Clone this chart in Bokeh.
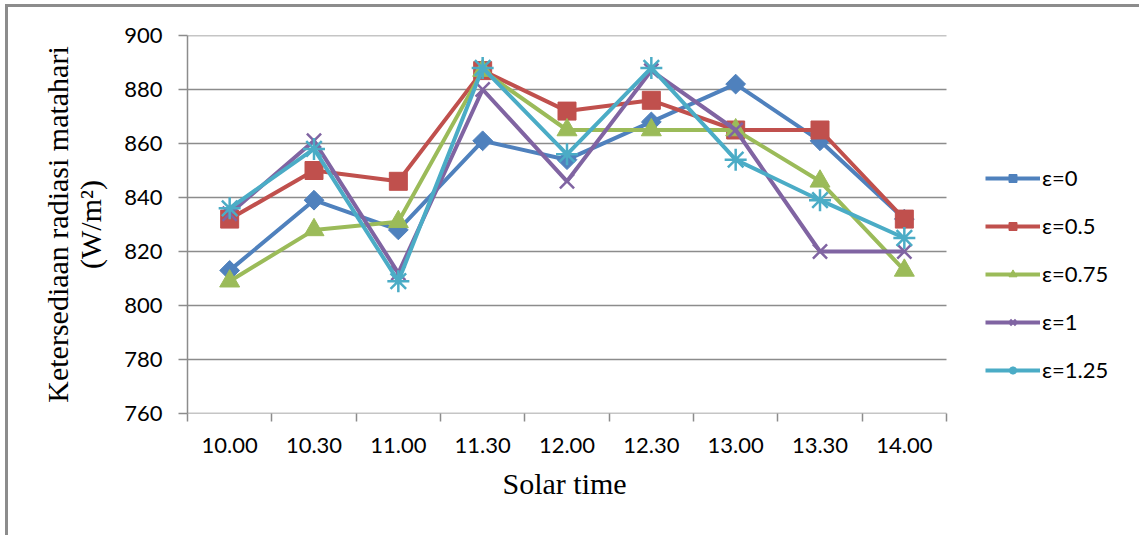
import math
from bokeh.plotting import figure
from bokeh.models import FixedTicker, Legend
from bokeh.embed import file_html
from bokeh.resources import INLINE

# ---- data ----
times = ["10.00", "10.30", "11.00", "11.30", "12.00", "12.30", "13.00", "13.30", "14.00"]
eps0 = [813, 839, 828, 861, 854, 868, 882, 861, 832]
eps05 = [832, 850, 846, 887, 872, 876, 865, 865, 832]
eps075 = [809, 828, 831, 887, 865, 865, 865, 846, 813]
eps1 = [834, 861, 812, 880, 846, 887, 865, 820, 820]
eps125 = [836, 858, 809, 888, 856, 888, 854, 839, 825]
series_labels = ["ε=0", "ε=0.5", "ε=0.75", "ε=1", "ε=1.25"]
y_ticks = [760, 780, 800, 820, 840, 860, 880, 900]
x_title = "Solar time"
y_title = "Ketersediaan radiasi matahari\n(W/m²)"

colors = ["#4F81BD", "#C0504D", "#9BBB59", "#8064A2", "#4BACC6"]

n = len(times)
xs = [i + 0.5 for i in range(n)]

W, H = 1139, 535
left, top, bottom = 187, 35, 122
plot_w = 759                      # width of the category area in pixels
frame_w = W - left                # frame reaches the right edge so the legend can sit there
x_end = n * frame_w / plot_w

p = figure(width=W, height=H, output_backend="svg", toolbar_location=None,
           x_range=(0, x_end), y_range=(760, 900), title_location="below",
           min_border_left=left, min_border_right=0, min_border_top=top, min_border_bottom=bottom)
p.outline_line_color = None
p.background_fill_color = None
p.border_fill_color = None
p.styles = {
    "background": "linear-gradient(#8c8c8c, #8c8c8c) 5px 4px / 3px 100% no-repeat, "
                  "linear-gradient(#8c8c8c, #8c8c8c) 5px 4px / 100% 3px no-repeat, white"
}

# x-axis title drawn as a title below the axis, centred on the category area
p.title.text = x_title
p.title.text_font = "Liberation Serif"
p.title.text_font_size = "30px"
p.title.text_font_style = "normal"
p.title.text_color = "black"
p.title.align = "left"
p.title.offset = 315
p.title.standoff = 18

grid_col = "#8c8c8c"
# horizontal gridlines over the category area only
p.xgrid.grid_line_color = None
p.ygrid.grid_line_color = None
p.segment(x0=[0] * len(y_ticks), x1=[n] * len(y_ticks), y0=y_ticks, y1=y_ticks,
          line_color=grid_col, line_width=1.5)

# x axis
p.xaxis.ticker = FixedTicker(ticks=xs, minor_ticks=list(range(n + 1)))
p.xaxis.major_label_overrides = {x: t for x, t in zip(xs, times)}
p.xaxis.major_tick_out = 0
p.xaxis.major_tick_in = 0
p.xaxis.minor_tick_out = 8
p.xaxis.minor_tick_in = 0
p.xaxis.minor_tick_line_color = grid_col
p.xaxis.minor_tick_line_width = 1.5
p.xaxis.axis_line_color = None
p.xaxis.major_label_text_font = "Lato"
p.xaxis.major_label_text_font_size = "22px"
p.xaxis.major_label_text_color = "black"
p.xaxis.major_label_standoff = 16

# y axis
p.yaxis.ticker = FixedTicker(ticks=y_ticks, minor_ticks=[])
p.yaxis.major_tick_out = 9
p.yaxis.major_tick_in = 0
p.yaxis.major_tick_line_color = grid_col
p.yaxis.major_tick_line_width = 1.5
p.yaxis.axis_line_color = grid_col
p.yaxis.axis_line_width = 1.5
p.yaxis.major_label_text_font = "Lato"
p.yaxis.major_label_text_font_size = "22px"
p.yaxis.major_label_text_color = "black"
p.yaxis.major_label_standoff = 16
p.yaxis.axis_label = y_title
p.yaxis.axis_label_text_font = "Liberation Serif"
p.yaxis.axis_label_text_font_size = "30px"
p.yaxis.axis_label_text_font_style = "normal"
p.yaxis.axis_label_text_color = "black"
p.yaxis.axis_label_standoff = 14
p.yaxis.axis_label_text_line_height = 1.0

all_series = [eps0, eps05, eps075, eps1, eps125]
items = []
for vals, lab, col, k in zip(all_series, series_labels, colors, range(5)):
    r_line = p.line(xs, vals, line_color=col, line_width=4)
    if k == 0:
        r_m = p.scatter(xs, vals, marker="square", angle=math.pi / 4, size=14,
                        fill_color=col, line_color=col)
    elif k == 1:
        r_m = p.scatter(xs, vals, marker="square", size=18, fill_color=col, line_color=col)
    elif k == 2:
        r_m = p.scatter(xs, vals, marker="triangle", size=20, fill_color=col, line_color=col)
    elif k == 3:
        r_m = p.scatter(xs, vals, marker="x", size=20, line_color=col, line_width=2.5)
    else:
        r_m = p.scatter(xs, vals, marker="asterisk", size=22, line_color=col, line_width=2.5)
    items.append((lab, [r_line, r_m]))

legend = Legend(items=items, location=(798, 30))
legend.border_line_color = None
legend.background_fill_alpha = 0
legend.padding = 0
legend.margin = 0
legend.spacing = 21
legend.glyph_width = 55
legend.glyph_height = 20
legend.label_height = 20
legend.label_standoff = 2
legend.label_text_font = "Lato"
legend.label_text_font_size = "22px"
legend.label_text_color = "black"
p.add_layout(legend, "center")

open("out.html", "w").write(file_html(p, INLINE))
